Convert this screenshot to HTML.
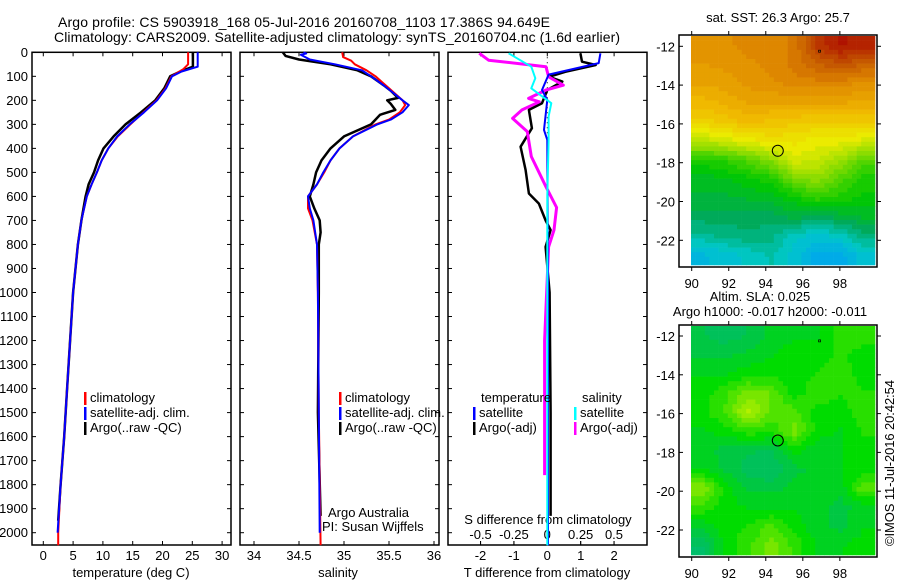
<!DOCTYPE html>
<html><head><meta charset="utf-8"><style>
html,body{margin:0;padding:0;background:#fff;}
svg{display:block;font-family:"Liberation Sans",sans-serif;}
</style></head><body>
<svg id="c" width="900" height="580" viewBox="0 0 900 580">
<rect width="900" height="580" fill="#fff"/>
<text x="304" y="27" font-size="14" text-anchor="middle" textLength="492">Argo profile: CS 5903918_168 05-Jul-2016 20160708_1103 17.386S 94.649E</text>
<text x="337" y="42" font-size="14" text-anchor="middle" textLength="566">Climatology: CARS2009. Satellite-adjusted climatology: synTS_20160704.nc (1.6d earlier)</text>
<g id="g"></g>
</svg>
<script>
// depth axis
const depthTicks=[0,100,200,300,400,500,600,700,800,900,1000,1100,1200,1300,1400,1500,1600,1700,1800,1900,2000];
const tempTicks=[0,5,10,15,20,25,30];
const salTicks=[34,34.5,35,35.5,36];
const tdiffTicks=[-2,-1,0,1,2];
const sdiffTicks=[-0.5,-0.25,0,0.25,0.5];
// temperature profiles [depth, T]
const tempClim=[[0,24.3],[50,24.3],[70,23.5],[100,21.5],[150,20.5],[200,19],[250,16.8],[300,14.6],[350,12.5],[400,10.9],[450,9.8],[500,9.0],[550,8.1],[600,7.3],[700,6.4],[800,5.8],[900,5.4],[1000,5.0],[1200,4.5],[1400,4.0],[1600,3.5],[1800,2.9],[2000,2.5],[2052,2.5]];
const tempSat=[[0,25.9],[60,25.9],[80,23.2],[100,21.6],[150,20.6],[200,19.1],[250,16.9],[300,14.5],[350,12.4],[400,10.9],[450,9.8],[500,9.0],[550,8.1],[600,7.3],[700,6.4],[800,5.8],[900,5.4],[1000,5.0],[1200,4.5],[1400,4.0],[1600,3.5],[1800,2.9],[2000,2.4]];
const tempArgo=[[0,25.1],[60,25.1],[80,23],[100,21.3],[150,20.3],[200,18.8],[250,16.4],[300,13.8],[350,11.8],[400,10.1],[450,9.2],[500,8.5],[550,7.6],[600,7.1],[700,6.4],[800,5.8],[900,5.4],[1000,5.0],[1200,4.5],[1400,4.0],[1600,3.5],[1800,2.9],[1950,2.5]];
// salinity profiles [depth, S]
const salClim=[[0,34.98],[20,34.99],[35,35.08],[50,35.12],[75,35.25],[100,35.35],[150,35.5],[200,35.65],[220,35.68],[250,35.62],[280,35.5],[300,35.35],[350,35.1],[400,34.95],[450,34.85],[500,34.78],[550,34.7],[600,34.6],[650,34.6],[700,34.65],[800,34.7],[1000,34.71],[1500,34.72],[2052,34.74]];
const salSat=[[0,34.55],[5,34.58],[10,34.52],[30,34.62],[50,34.9],[75,35.2],[100,35.3],[140,35.45],[200,35.65],[220,35.72],[250,35.65],[280,35.52],[300,35.37],[350,35.1],[400,34.95],[450,34.85],[500,34.77],[550,34.7],[600,34.6],[650,34.62],[700,34.66],[800,34.7],[1000,34.71],[2000,34.73]];
const salArgo=[[0,34.32],[15,34.35],[30,34.5],[50,34.85],[75,35.15],[100,35.3],[140,35.45],[160,35.52],[190,35.6],[200,35.48],[215,35.52],[240,35.57],[260,35.4],[280,35.35],[300,35.3],[350,35.0],[400,34.85],[450,34.75],[500,34.69],[550,34.66],[600,34.62],[650,34.67],[700,34.73],[750,34.74],[800,34.72],[1000,34.72],[1500,34.71],[1930,34.74]];
// differences [depth, diff]
const tdiffSat=[[4,1.59],[45,1.54],[93,0.04],[157,-0.16],[198,0],[323,-0.1],[365,0],[1000,0.02],[2052,0.02]];
const tdiffArgo=[[4,0.99],[39,1.04],[53,1.45],[81,0.54],[102,0.05],[122,0.45],[157,0],[212,-0.16],[240,-0.55],[316,-0.46],[393,-0.8],[490,-0.65],[588,-0.55],[630,-0.25],[700,-0.05],[740,0.1],[810,-0.05],[1000,0.07],[1500,0.1],[1930,0.1]];
const sdiffSat=[[4,-0.29],[60,-0.12],[108,-0.09],[150,-0.12],[212,0.03],[267,0.01],[365,0.01],[600,0],[2052,0]];
const sdiffArgo=[[4,-0.51],[33,-0.44],[60,-0.01],[102,0.01],[137,0.12],[157,-0.01],[192,-0.14],[206,-0.06],[240,-0.19],[275,-0.26],[330,-0.15],[434,-0.12],[560,-0.01],[646,0.07],[740,0.05],[810,0.01],[1200,-0.02],[1760,-0.02]];
// map grids (rows lat -12..-23, cols lon 90..99)
const latTicks=[-12,-14,-16,-18,-20,-22];
const lonTicks=[90,92,94,96,98];
const sstGrid=[
[.78,.78,.8,.8,.82,.92,.97,.95],
[.76,.77,.78,.8,.82,.86,.88,.86],
[.74,.75,.77,.78,.8,.8,.8,.78],
[.7,.72,.74,.74,.74,.74,.74,.73],
[.65,.67,.7,.68,.67,.66,.66,.67],
[.55,.57,.6,.62,.62,.6,.6,.58],
[.4,.42,.45,.5,.58,.56,.52,.45],
[.35,.36,.38,.4,.48,.5,.45,.4],
[.33,.33,.34,.35,.38,.42,.4,.38],
[.3,.3,.3,.3,.32,.3,.32,.34],
[.25,.27,.28,.27,.22,.2,.22,.28],
[.18,.2,.22,.24,.2,.15,.15,.2]];
const slaGrid=[
[.3,.25,.3,.4,.45,.45,.6,.6],
[.35,.35,.4,.45,.5,.5,.55,.5],
[.45,.45,.5,.5,.5,.55,.6,.5],
[.5,.6,.75,.7,.5,.6,.55,.55],
[.5,.65,.9,.7,.65,.5,.5,.6],
[.45,.5,.6,.55,.75,.5,.45,.55],
[.4,.35,.3,.3,.5,.4,.45,.5],
[.45,.35,.25,.2,.35,.4,.45,.5],
[.8,.5,.35,.35,.4,.45,.4,.7],
[.6,.5,.45,.45,.45,.4,.35,.4],
[.4,.5,.55,.65,.5,.4,.35,.45],
[.2,.5,.6,.75,.6,.45,.45,.5]];
const argoLon=94.649, argoLat=-17.386;

const NS="http://www.w3.org/2000/svg";
const G=document.getElementById('g');
function mk(tag,attrs,parent){const e=document.createElementNS(NS,tag);for(const k in attrs)e.setAttribute(k,attrs[k]);(parent||G).appendChild(e);return e;}
const Y0=52.3, YS=0.2402;
const yD=d=>Y0+d*YS;
const xT=t=>43.3+t*5.96;
const xS=s=>254+(s-34)*90;
const xTd=v=>547.3+v*33.4;
const xSd=v=>547.3+v*133.4;
const BOT=545;

function panel(x0,x1,name){
  const r=mk('rect',{x:x0,y:Y0,width:x1-x0,height:BOT-Y0,fill:'none',stroke:'#000','stroke-width':1.5});
  
  
  depthTicks.forEach(d=>{
    mk('line',{x1:x0,x2:x0+4,y1:yD(d),y2:yD(d),stroke:'#000'});
    mk('line',{x1:x1,x2:x1-4,y1:yD(d),y2:yD(d),stroke:'#000'});
  });
}
panel(32,231,'temperature-panel');
panel(240,439,'salinity-panel');
panel(448,647,'difference-panel');
depthTicks.forEach(d=>{
  const t=mk('text',{x:28,y:yD(d)+4.5,'font-size':13,'text-anchor':'end'});t.textContent=d;
  
  
});
function xticks(arr,fx,name,ly,top){
  arr.forEach(v=>{
    const x=fx(v);
    mk('line',{x1:x,x2:x,y1:BOT,y2:BOT-4,stroke:'#000'});
    if(top) mk('line',{x1:x,x2:x,y1:Y0,y2:Y0+4,stroke:'#000'});
    const t=mk('text',{x:x,y:ly,'font-size':13,'text-anchor':'middle'});t.textContent=v;
    
    
  });
}
xticks(tempTicks,xT,'temperature-tick-label',560,true);
xticks(salTicks,xS,'salinity-tick-label',560,true);
xticks(tdiffTicks,xTd,'t-diff-tick-label',560,true);
sdiffTicks.forEach(v=>{const x=xSd(v);mk('line',{x1:x,x2:x,y1:BOT,y2:BOT-4,stroke:'#000'});
  const t=mk('text',{x:x,y:539,'font-size':13,'text-anchor':'middle'});t.textContent=v;
  
  });
function label(x,y,s,name,anchor,size){const t=mk('text',{x:x,y:y,'font-size':size||13,'text-anchor':anchor||'start'});t.textContent=s;
  
  return t;}
label(131,577,'temperature (deg C)','x-axis-title-temperature','middle');
label(338,577,'salinity','x-axis-title-salinity','middle');
label(547,577,'T difference from climatology','x-axis-title-t-diff','middle');
label(548,524,'S difference from climatology','s-diff-axis-title','middle');
mk('line',{x1:547.3,x2:547.3,y1:Y0,y2:BOT,stroke:'#000','stroke-dasharray':'1 4'});
function series(arr,fx,color,w,name){
  const d=arr.map((p,i)=>(i?'L':'M')+fx(p[1]).toFixed(1)+' '+yD(p[0]).toFixed(1)).join(' ');
  const p=mk('path',{d:d,fill:'none',stroke:color,'stroke-width':w,'stroke-linejoin':'round'});
  
  
}
series(tempArgo,xT,'#000',2.5,'temp-argo-line');
series(tempClim,xT,'#f00',2,'temp-climatology-line');
series(tempSat,xT,'#00f',2,'temp-satellite-line');
series(salArgo,xS,'#000',2.5,'sal-argo-line');
series(salClim,xS,'#f00',2,'sal-climatology-line');
series(salSat,xS,'#00f',2,'sal-satellite-line');
series(tdiffArgo,xTd,'#000',2.5,'tdiff-argo-line');
series(sdiffArgo,xSd,'#f0f',3,'sdiff-argo-line');
series(tdiffSat,xTd,'#00f',2,'tdiff-satellite-line');
series(sdiffSat,xSd,'#0ff',2,'sdiff-satellite-line');
function leg(x,y,color,s,name){mk('rect',{x:x,y:y-10,width:2.5,height:13,fill:color});label(x+6,y,s,name);}
leg(84,402,'#f00','climatology','legend-climatology');
leg(84,417,'#00f','satellite-adj. clim.','legend-satellite-adj');
leg(84,432,'#000','Argo(..raw -QC)','legend-argo');
leg(339,402,'#f00','climatology','legend-climatology-2');
leg(339,417,'#00f','satellite-adj. clim.','legend-satellite-adj-2');
leg(339,432,'#000','Argo(..raw -QC)','legend-argo-2');
label(481,402,'temperature','legend-temperature-header');
label(582,402,'salinity','legend-salinity-header');
leg(473,417,'#00f','satellite','legend-t-satellite');
leg(473,432,'#000','Argo(-adj)','legend-t-argo');
leg(574,417,'#0ff','satellite','legend-s-satellite');
leg(574,432,'#f0f','Argo(-adj)','legend-s-argo');
label(328,517,'Argo Australia','credit-argo-australia');
label(322,531,'PI: Susan Wijffels','credit-pi');

function lerp(a,b,t){return a+(b-a)*t;}
function cmap(stops,v){
  if(v<=stops[0][0])return stops[0][1];
  for(let i=1;i<stops.length;i++){if(v<=stops[i][0]){const t=(v-stops[i-1][0])/(stops[i][0]-stops[i-1][0]);const a=stops[i-1][1],b=stops[i][1];return [0,1,2].map(k=>Math.round(lerp(a[k],b[k],t)));}}
  return stops[stops.length-1][1];
}
const sstStops=[[0.1,[0,150,255]],[0.22,[0,200,200]],[0.3,[0,170,90]],[0.38,[0,200,0]],[0.5,[140,220,0]],[0.6,[235,235,0]],[0.7,[240,185,0]],[0.8,[222,135,0]],[0.88,[195,85,0]],[1,[170,0,0]]];
const slaStops=[[0,[0,185,140]],[0.3,[0,195,80]],[0.5,[0,220,0]],[0.75,[120,230,0]],[1,[210,245,0]]];
function map(top,grid,stops,q,name,lat12,latS){
  const fx0=691,fx1=875,fy0=top+1,fy1=top+230;
  const xL=lon=>691.7+(lon-90)*18.52;
  const yL=lat=>lat12+(-12-lat)*latS;
  const g=mk('g',{});
  
  
  const R=grid.length,C=grid[0].length,cs=4.6;
  for(let y=fy0;y<fy1;y+=cs){for(let x=fx0;x<fx1;x+=cs){
    let gx=(x+cs/2-fx0)/(fx1-fx0)*C-0.5, gy=(y+cs/2-fy0)/(fy1-fy0)*R-0.5;
    gx=Math.max(0,Math.min(C-1.001,gx));gy=Math.max(0,Math.min(R-1.001,gy));
    const i=Math.floor(gy),j=Math.floor(gx),ty=gy-i,tx=gx-j;
    let v=lerp(lerp(grid[i][j],grid[i][j+1],tx),lerp(grid[i+1][j],grid[i+1][j+1],tx),ty);
    v=Math.round(v*q)/q;
    const c=cmap(stops,v);
    mk('rect',{x:x.toFixed(1),y:y.toFixed(1),width:(Math.min(cs,fx1-x)+0.3).toFixed(1),height:(Math.min(cs,fy1-y)+0.3).toFixed(1),fill:`rgb(${c})`},g);
  }}
  mk('rect',{x:679,y:top,width:198,height:232,fill:'none',stroke:'#000','stroke-width':1.5});
  latTicks.forEach(l=>{const y=yL(l);mk('line',{x1:877,x2:881,y1:y,y2:y,stroke:'#000'});mk('line',{x1:679,x2:683,y1:y,y2:y,stroke:'#000'});
    label(675,y+5,String(l),'map-lat-tick-label','end');});
  lonTicks.forEach(l=>{const x=xL(l);mk('line',{x1:x,x2:x,y1:top,y2:top-4,stroke:'#000'});mk('line',{x1:x,x2:x,y1:top+232,y2:top+236,stroke:'#000'});
    label(x,top+253,String(l),'map-lon-tick-label','middle');});
  const c=mk('circle',{cx:xL(argoLon),cy:yL(argoLat),r:5.5,fill:'none',stroke:'#000','stroke-width':1});
  
  
  mk('rect',{x:xL(96.85),y:yL(-12.2),width:2,height:2,fill:'none',stroke:'#000','stroke-width':0.7});
}
map(35,sstGrid,sstStops,40,'sst-map',46.3,19.4);
map(325,slaGrid,slaStops,12,'sla-map',336,19.4);
label(778,22,'sat. SST: 26.3 Argo: 25.7','sst-map-title','middle');
label(760,301,'Altim. SLA: 0.025','sla-map-title','middle');
label(770,316,'Argo h1000: -0.017 h2000: -0.011','sla-map-subtitle','middle');
const im=label(0,0,'©IMOS 11-Jul-2016 20:42:54','imos-timestamp','middle');
im.setAttribute('transform','translate(894,463) rotate(-90)');
im.setAttribute('textLength','166');
</script>
</body></html>
